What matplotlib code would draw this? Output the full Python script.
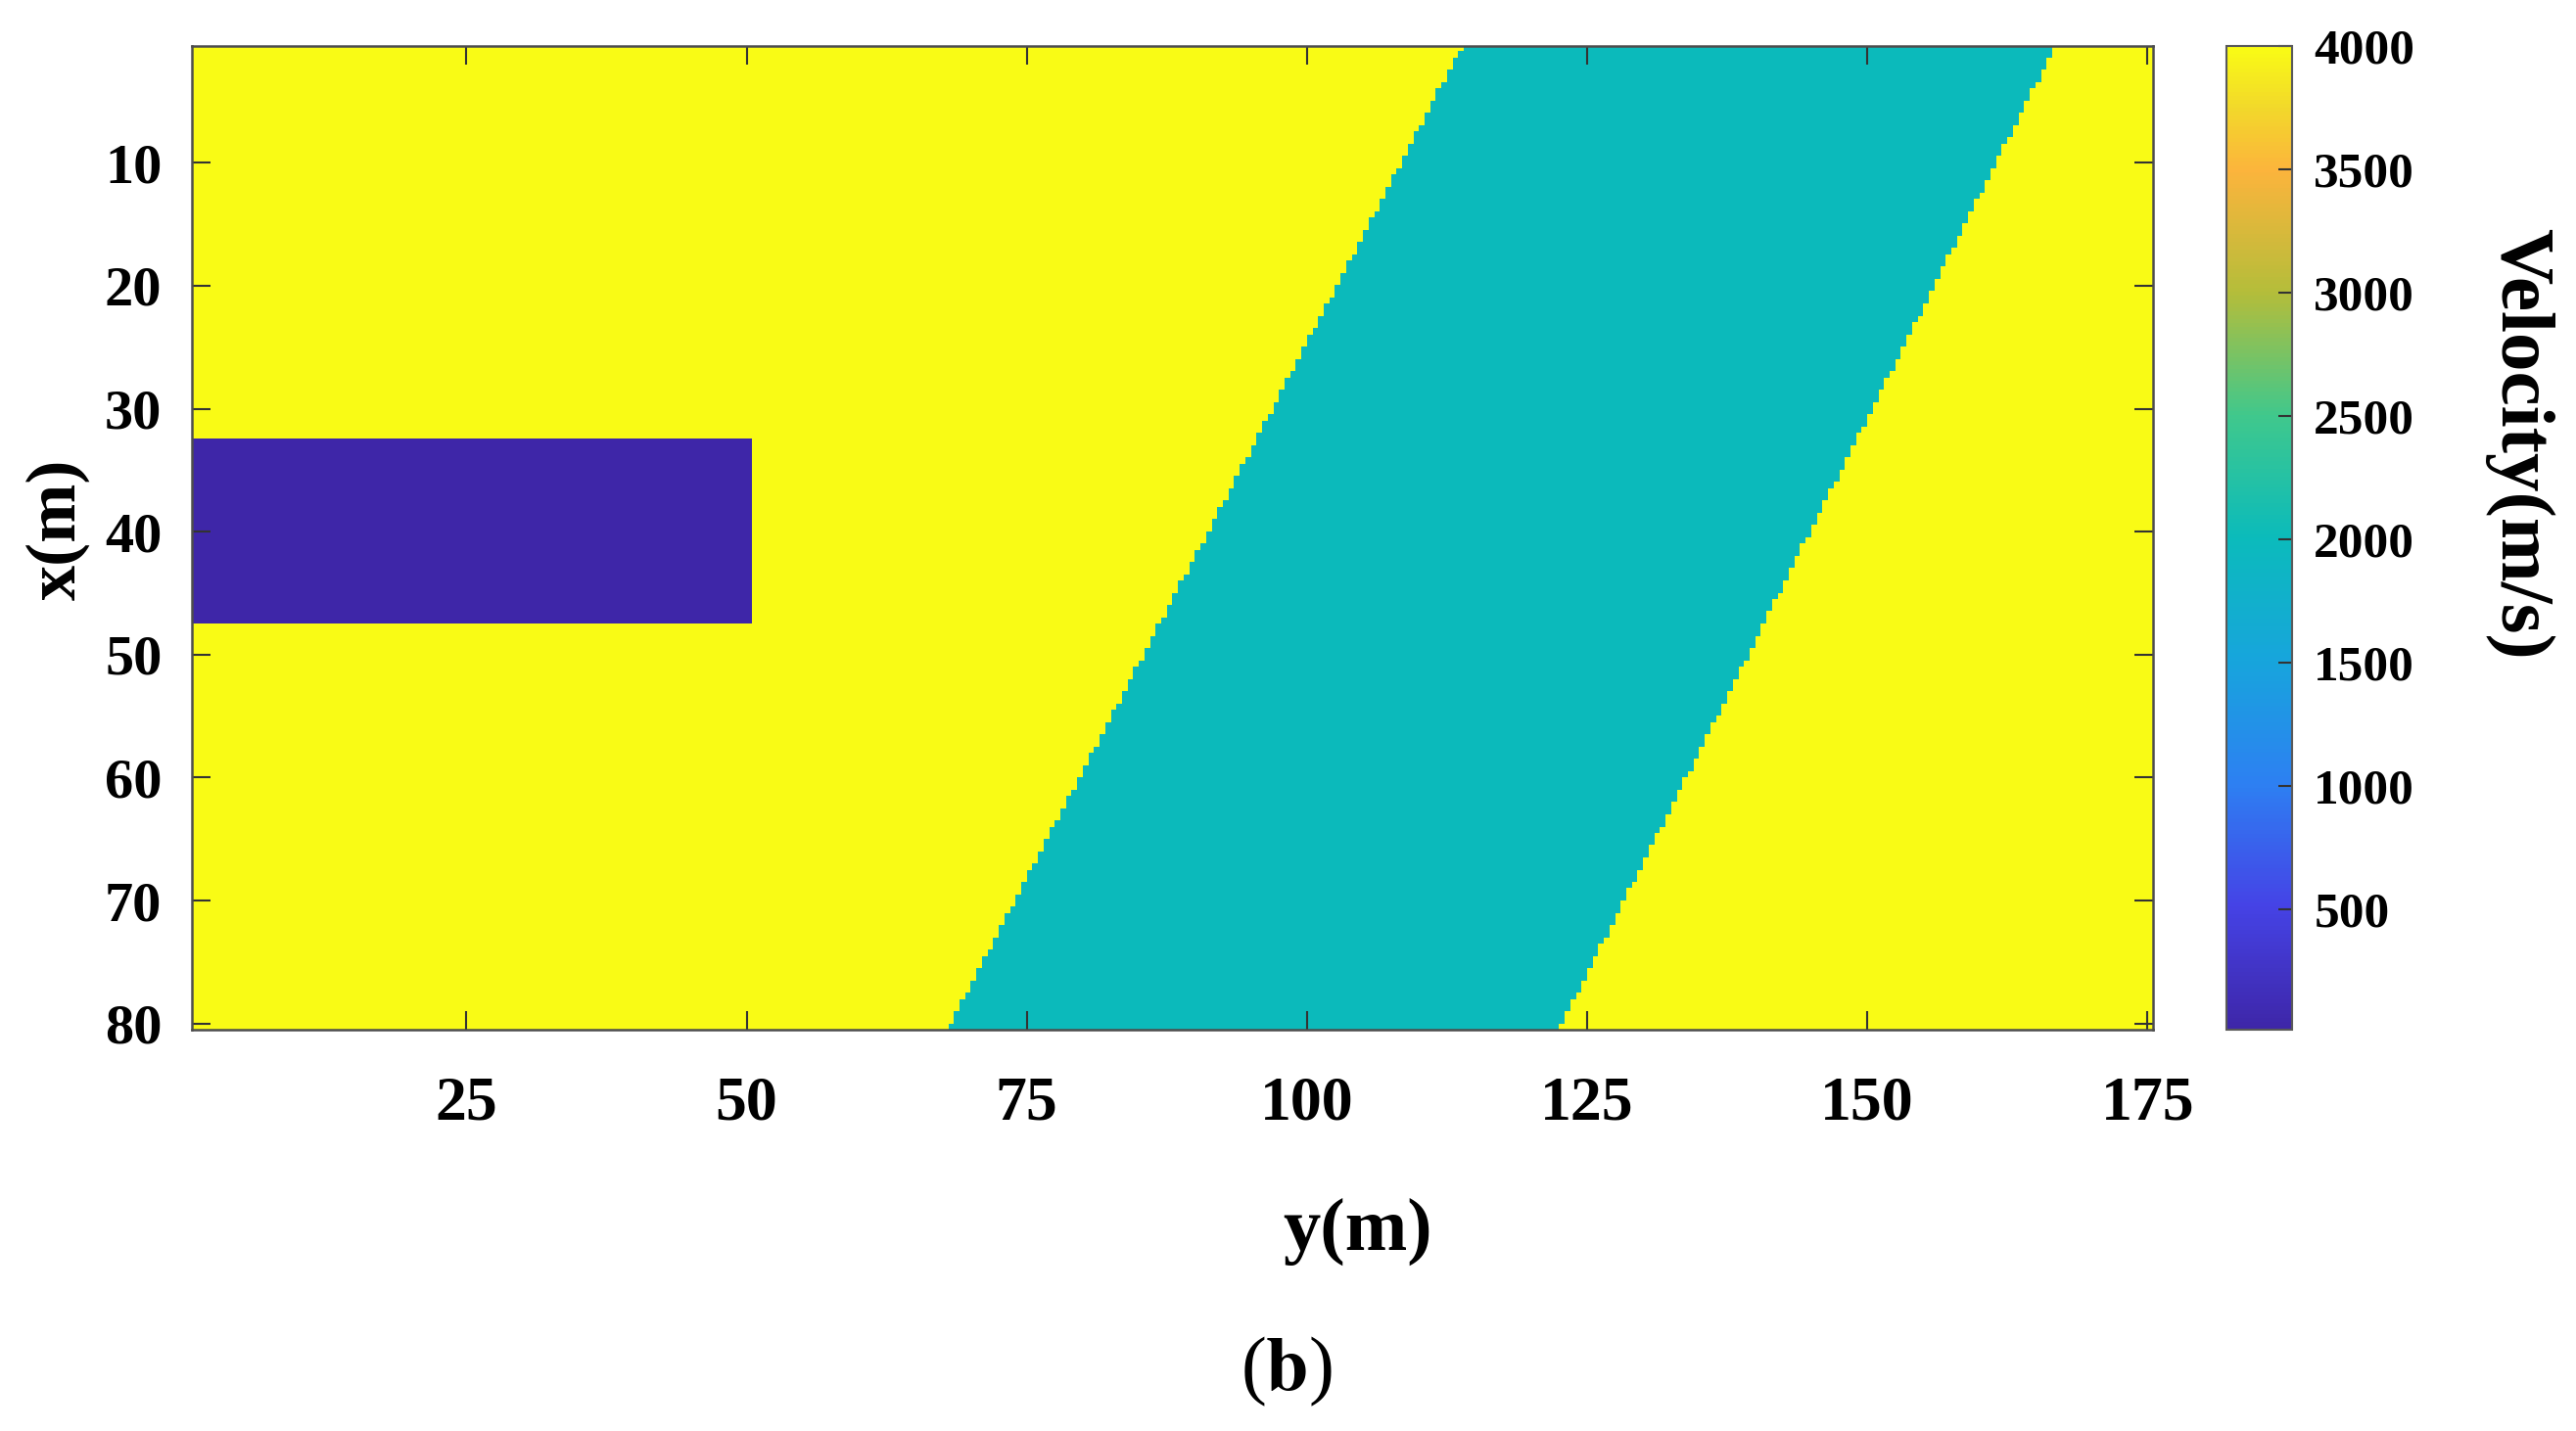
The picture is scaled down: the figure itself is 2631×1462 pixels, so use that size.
#!/usr/bin/env python

"""Velocity model with a dipping layer and a low-velocity block."""

import numpy as np
import matplotlib.pyplot as plt
from matplotlib.colors import LinearSegmentedColormap

plt.rcParams['font.family'] = ['Liberation Serif', 'DejaVu Serif']
plt.rcParams['font.weight'] = 'bold'
plt.rcParams['mathtext.fontset'] = 'stix'

# model extent (m) and grid step
x_range = (0.5, 80.5)     # x(m), vertical
y_range = (0.5, 175.5)    # y(m), horizontal
step = 0.5

# velocities (m/s)
background_vel = 4000
band_vel = 2000
block_vel = 10

# dipping band edges, y position at the top and bottom of the model
band_left_top, band_left_bottom = 113.9, 67.9
band_right_top, band_right_bottom = 166.8, 122.5

# low-velocity block
block_x = (32.5, 47.5)
block_y = (0.5, 50.5)

x_ticks = [10, 20, 30, 40, 50, 60, 70, 80]
y_ticks = [25, 50, 75, 100, 125, 150, 175]
cbar_ticks = [500, 1000, 1500, 2000, 2500, 3000, 3500, 4000]

# parula-like colormap
parula_stops = [(0.0, '#3e26a8'), (0.125, '#4543e6'), (0.25, '#2d80f2'),
                (0.375, '#17a5dc'), (0.5, '#0bbbbb'), (0.625, '#40c88c'),
                (0.75, '#b4bd3a'), (0.875, '#fcb43c'), (0.94, '#f2d92a'),
                (1.0, '#f9fb15')]
parula = LinearSegmentedColormap.from_list('parula', parula_stops)


def build_model():
    """Return the velocity grid."""
    xc = np.arange(x_range[0] + step / 2, x_range[1], step)[:, None]
    yc = np.arange(y_range[0] + step / 2, y_range[1], step)[None, :]
    frac = (xc - x_range[0]) / (x_range[1] - x_range[0])
    left = band_left_top + (band_left_bottom - band_left_top) * frac
    right = band_right_top + (band_right_bottom - band_right_top) * frac

    vel = np.full((xc.size, yc.size), background_vel, dtype=float)
    vel[(yc >= left) & (yc <= right)] = band_vel
    in_block = ((xc > block_x[0]) & (xc < block_x[1]) &
                (yc > block_y[0]) & (yc < block_y[1]))
    vel[in_block] = block_vel
    return vel


def main():
    fig = plt.figure(figsize=(26.31, 14.62), dpi=100)
    ax = fig.add_axes([0.0745, 0.2804, 0.7613, 0.6875])
    cax = fig.add_axes([0.8643, 0.2804, 0.0255, 0.6875])

    vel = build_model()
    im = ax.imshow(vel, cmap=parula, vmin=block_vel, vmax=background_vel,
                   extent=(y_range[0], y_range[1], x_range[1], x_range[0]),
                   aspect='auto', interpolation='nearest')

    # axes properties
    ax.set_xticks(y_ticks)
    ax.set_yticks(x_ticks)
    ax.tick_params(direction='in', length=14, width=1.5, color='0.2',
                   top=True, right=True)
    ax.tick_params(axis='x', labelsize=46, pad=34)
    ax.tick_params(axis='y', labelsize=42, pad=22)
    for s in ax.spines.values():
        s.set_linewidth(1.8)
        s.set_color('0.3')

    # colorbar
    cb = fig.colorbar(im, cax=cax, ticks=cbar_ticks)
    cb.outline.set_linewidth(1.5)
    cb.outline.set_edgecolor('0.35')
    cax.tick_params(direction='in', length=10, width=1.5, color='0.2',
                    labelsize=37, pad=16)
    cax.text(4.45, 0.596, 'Velocity(m/s)', rotation=270, ha='center',
             va='center', fontsize=57, transform=cax.transAxes)

    # labels
    fig.text(0.0223, 0.630, 'x(m)', rotation=90, ha='center', va='center',
             fontsize=52)
    fig.text(0.527, 0.139, 'y(m)', ha='center', va='center', fontsize=55)
    fig.text(0.4994, 0.0413, r'($\mathbf{b}$)', ha='center', va='center',
             fontsize=56, fontweight='normal')

    fig.savefig('out.png', dpi=100)


if __name__ == '__main__':
    main()
